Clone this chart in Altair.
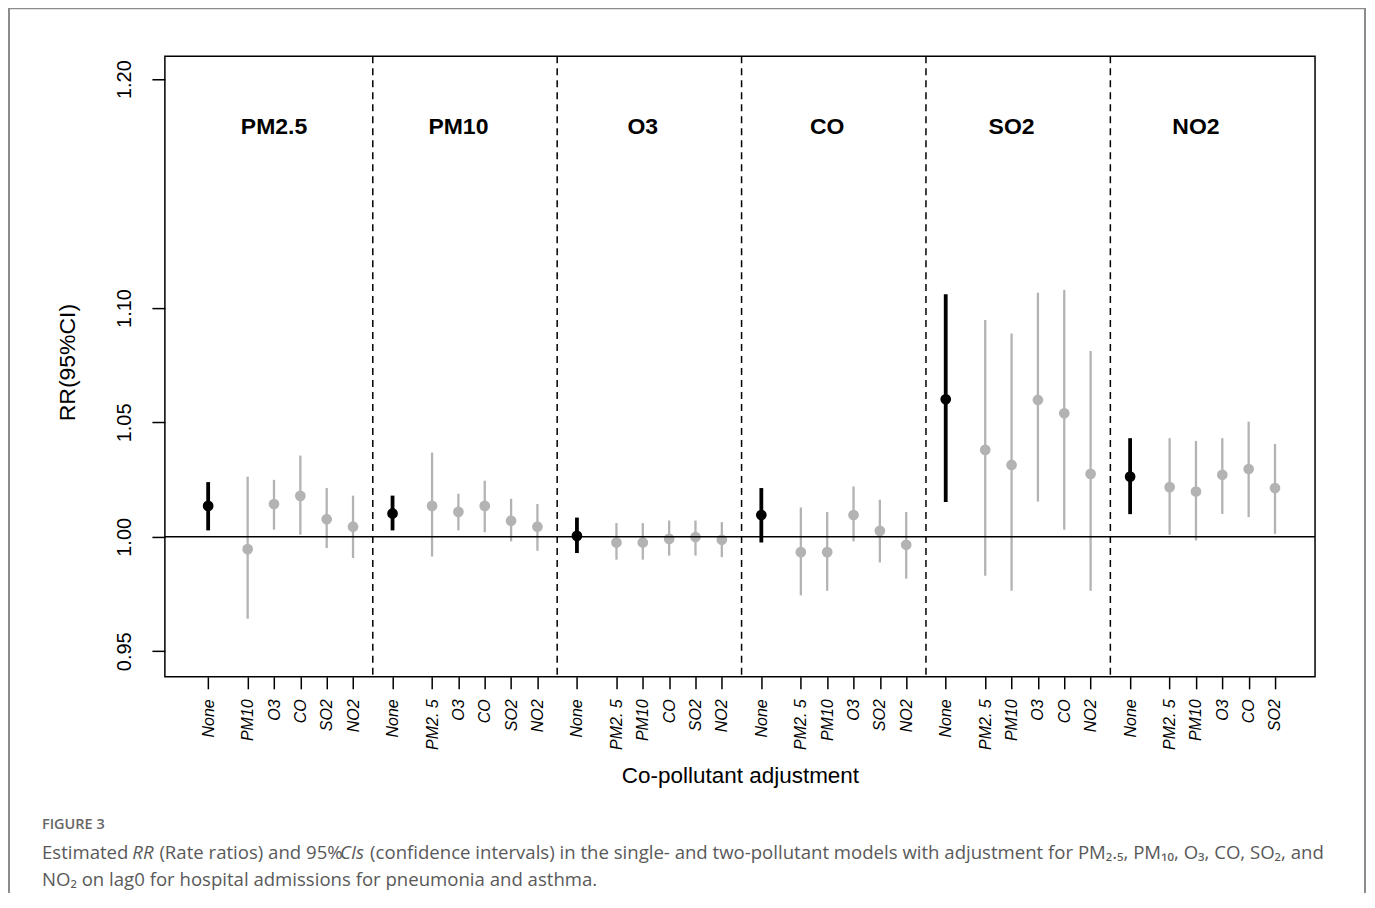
import altair as alt
import pandas as pd

# ---------------- data ----------------
pollutants = ["PM2.5", "PM10", "O3", "CO", "SO2", "NO2"]

# estimates (rows = main pollutant; columns = None, then the co-pollutants in order)
rr = [
    1.0135, 0.9946, 1.0143, 1.0179, 1.0077, 1.0044,   # PM2.5
    1.0102, 1.0135, 1.0109, 1.0135, 1.0070, 1.0044,   # PM10
    1.0004, 0.9975, 0.9975, 0.9991, 0.9999, 0.9987,   # O3
    1.0095, 0.9933, 0.9933, 1.0095, 1.0026, 0.9965,   # CO
    1.0601, 1.0380, 1.0314, 1.0598, 1.0540, 1.0275,   # SO2
    1.0263, 1.0217, 1.0198, 1.0271, 1.0296, 1.0213,   # NO2
]
ci_low = [
    1.0028, 0.9642, 1.0031, 1.0009, 0.9951, 0.9907,
    1.0028, 0.9914, 1.0028, 1.0020, 0.9980, 0.9939,
    0.9929, 0.9900, 0.9900, 0.9918, 0.9918, 0.9911,
    0.9975, 0.9744, 0.9764, 0.9980, 0.9888, 0.9817,
    1.0152, 0.9830, 0.9764, 1.0154, 1.0031, 0.9764,
    1.0099, 1.0009, 0.9984, 1.0100, 1.0086, 1.0013,
]
ci_high = [
    1.0239, 1.0263, 1.0249, 1.0355, 1.0213, 1.0180,
    1.0180, 1.0368, 1.0188, 1.0245, 1.0166, 1.0143,
    1.0084, 1.0060, 1.0060, 1.0071, 1.0071, 1.0064,
    1.0213, 1.0128, 1.0108, 1.0220, 1.0162, 1.0108,
    1.1060, 1.0948, 1.0889, 1.1067, 1.1079, 1.0812,
    1.0431, 1.0431, 1.0419, 1.0431, 1.0503, 1.0406,
]
y_ticks = [0.95, 1.00, 1.05, 1.10, 1.20]
reference_rr = 1.0

NB = "\u00a0"  # non-breaking space (SVG drops plain leading/trailing spaces)
caption_label = "FIGURE 3"
# caption line 1 as (text, italic) runs, line 2 plain
caption_runs = [
    ("Estimated" + NB, False), ("RR", True), (NB + "(Rate ratios) and 95%", False), ("CIs", True),
    (NB + "(confidence intervals) in the single- and two-pollutant models with adjustment for "
     "PM\u2082.\u2085, PM\u2081\u2080, O\u2083, CO, SO\u2082, and", False),
]
caption_line2 = "NO\u2082 on lag0 for hospital admissions for pneumonia and asthma."

# ---------------- layout helpers ----------------
slot_offsets = [0, 3, 5, 7, 9, 11]   # position of each slot inside a group (half units)
group_step = 14

rows = []
tick_pos = []
labels_at = [""] * 90
for g, pol in enumerate(pollutants):
    adjusters = ["None"] + [p for p in pollutants if p != pol]
    for k, adj in enumerate(adjusters):
        i = g * 6 + k
        pos = g * group_step + slot_offsets[k]
        tick_pos.append(pos)
        labels_at[pos] = adj.replace("PM2.5", "PM2. 5")
        rows.append(dict(group=pol, adj=adj, pos=pos, rr=rr[i], lo=ci_low[i], hi=ci_high[i],
                         kind="single" if adj == "None" else "two"))
df = pd.DataFrame(rows)
sep_df = pd.DataFrame({"pos": [g * group_step - 1.5 for g in range(1, len(pollutants))]})
title_df = pd.DataFrame({"group": pollutants,
                         "pos": [g * group_step + 5.0 for g in range(len(pollutants))]})

label_expr = "[" + ",".join("'" + s + "'" for s in labels_at) + "][datum.value]"

W, H = 1151, 621
PAD = {"left": 157, "top": 48, "right": 52, "bottom": 216}
FONT = "Liberation Sans"

xscale = alt.Scale(domain=[-3.285, 84.04], nice=False, zero=False)
yscale = alt.Scale(domain=[0.9388, 1.2100], nice=False, zero=False)

x_axis = alt.Axis(values=tick_pos, tickCount=200, labelExpr=label_expr, labelAngle=-90,
                  labelAlign="right", labelBaseline="middle",
                  labelFont=FONT, labelFontSize=16, labelFontStyle="italic",
                  labelColor="black", labelPadding=10, labelOverlap=False,
                  tickSize=12, tickWidth=1.5, tickColor="black",
                  domain=False, grid=False,
                  title="Co-pollutant adjustment", titleFont=FONT, titleFontSize=22.5,
                  titleFontWeight="normal", titleColor="black",
                  titleY=99, titleBaseline="middle")
y_axis = alt.Axis(values=y_ticks, format=".2f", labelAngle=-90,
                  labelAlign="center", labelBaseline="bottom",
                  labelFont=FONT, labelFontSize=20, labelColor="black",
                  labelPadding=17, tickSize=13, tickWidth=1.5, tickColor="black",
                  domain=False, grid=False,
                  title="RR(95%CI)", titleFont=FONT, titleFontSize=23,
                  titleFontWeight="normal", titleColor="black",
                  titleAngle=-90, titleX=-97, titleY=306,
                  titleAlign="center", titleBaseline="middle")

x_enc = alt.X("pos:Q", scale=xscale, axis=x_axis)

kind_color = alt.Color("kind:N", scale=alt.Scale(domain=["single", "two"], range=["#000000", "#b3b3b3"]), legend=None)
kind_width = alt.StrokeWidth("kind:N", scale=alt.Scale(domain=["single", "two"], range=[3.8, 2.3]), legend=None)

base = alt.Chart(df)

bars = base.mark_rule().encode(
    x=x_enc,
    y=alt.Y("lo:Q", scale=yscale, axis=y_axis),
    y2="hi:Q",
    color=kind_color,
    strokeWidth=kind_width,
)
points = base.mark_circle(size=115, opacity=1).encode(
    x=x_enc,
    y=alt.Y("rr:Q", scale=yscale, axis=y_axis),
    color=kind_color,
)
hline = alt.Chart(pd.DataFrame({"v": [reference_rr]})).mark_rule(color="black", strokeWidth=1.5).encode(
    y=alt.Y("v:Q", scale=yscale, axis=y_axis)
)
seps = alt.Chart(sep_df).mark_rule(color="black", strokeWidth=1.5, strokeDash=[7, 5]).encode(
    x=x_enc
)
titles = alt.Chart(title_df).mark_text(font=FONT, fontSize=23, fontWeight="bold", color="black",
                                       align="center", baseline="middle").encode(
    x=x_enc, y=alt.value(71), text="group:N"
)

# ---------------- caption ----------------
# approximate Open Sans advance widths (em) used only to place the italic runs
_w = dict(zip("abcdefghijklmnopqrstuvwxyz",
              [.556, .613, .48, .613, .561, .336, .546, .614, .258, .258, .524, .258, .932,
               .614, .603, .613, .613, .409, .477, .352, .614, .5, .786, .516, .5, .468]))
_w.update({" ": .26, NB: .26, "(": .296, ")": .296, "%": .817, ",": .245, ".": .266, "-": .322,
           "E": .554, "R": .6, "C": .617, "I": .27, "P": .6, "M": .9, "O": .78, "S": .532,
           "N": .74, "0": .571, "1": .571, "2": .571, "3": .571, "5": .571, "9": .571})


def tw(s):
    return sum(_w.get(c, .36) for c in s)


cap_font = "Open Sans"
cap_color = "#595959"
line_left = -123           # x of caption text, relative to the plot's left edge
line_width = 1274          # pixel width of caption line 1 in the figure
run_nudge = [0, 0, 5, 0, 5]
total_em = sum(tw(t) for t, _ in caption_runs)
cap_fs = 18.6

cap_rows = [dict(t=caption_label, x=line_left, y=769, fs=14.5, fw=600, st="normal", col="#666666")]
acc = 0.0
for (t, it), nd in zip(caption_runs, run_nudge):
    cap_rows.append(dict(t=t, x=line_left + line_width * acc / total_em + nd, y=797, fs=cap_fs, fw=400,
                         st="italic" if it else "normal", col=cap_color))
    acc += tw(t)
cap_rows.append(dict(t=caption_line2, x=line_left, y=824, fs=cap_fs, fw=400, st="normal", col=cap_color))

cap_layers = []
for r in cap_rows:
    cap_layers.append(
        alt.Chart(pd.DataFrame({"t": [r["t"]]})).mark_text(
            font=cap_font, fontSize=r["fs"], fontWeight=r["fw"], fontStyle=r["st"],
            color=r["col"], align="left", baseline="middle"
        ).encode(x=alt.value(r["x"]), y=alt.value(r["y"]), text="t:N")
    )

# outer figure frame
frame_col = "#8c8c8c"
frame_left = alt.Chart(pd.DataFrame({"a": [0]})).mark_rule(color=frame_col, strokeWidth=2).encode(
    x=alt.value(-156), y=alt.value(-48), y2=alt.value(900))
frame_top = alt.Chart(pd.DataFrame({"a": [0]})).mark_rule(color=frame_col, strokeWidth=2).encode(
    x=alt.value(-157), x2=alt.value(1202), y=alt.value(-48))
frame_right = alt.Chart(pd.DataFrame({"a": [0]})).mark_rule(color=frame_col, strokeWidth=2).encode(
    x=alt.value(1201), y=alt.value(-48), y2=alt.value(900))

chart = alt.layer(
    bars, points, hline, seps, titles, *cap_layers, frame_left, frame_top, frame_right
).properties(
    width=W, height=H, padding=PAD, autosize=alt.AutoSizeParams(type="none"),
    background="white",
).configure_view(stroke="black", strokeWidth=1.5)

chart.save("out.html", embed_options={"renderer": "svg", "actions": False})
